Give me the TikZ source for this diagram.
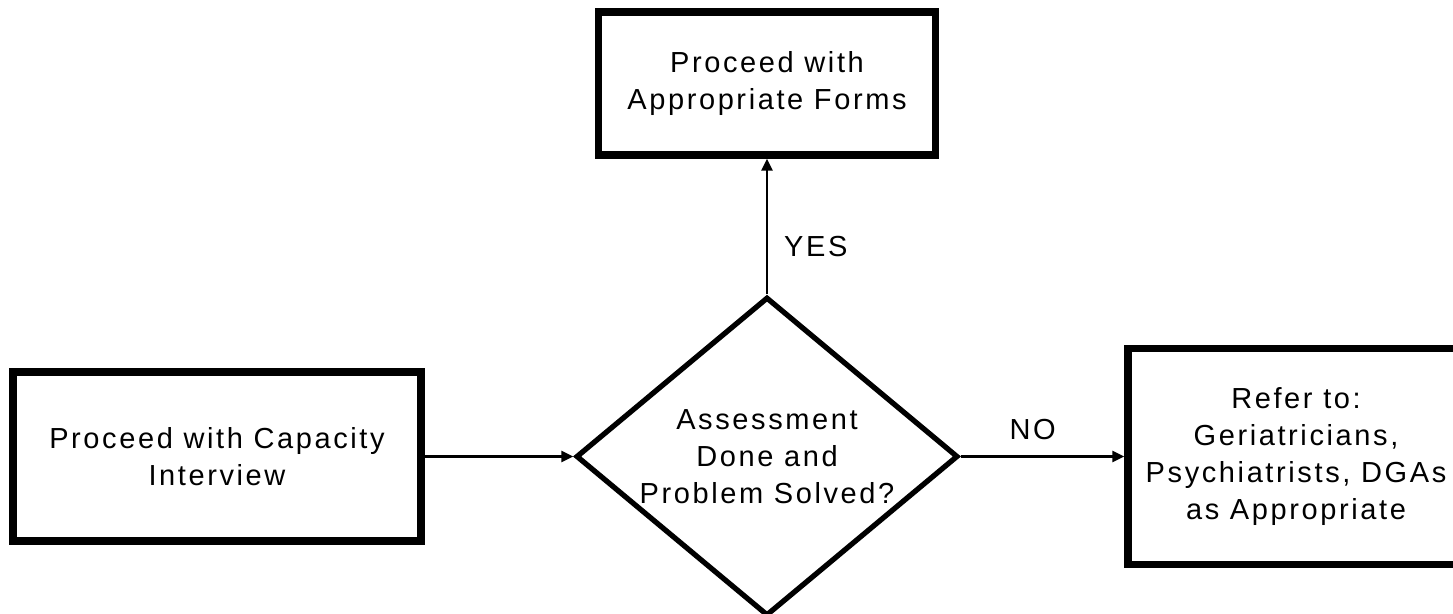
\documentclass[tikz,border=0pt]{standalone}
\usepackage{fontspec}
\setmainfont{Liberation Sans}[LetterSpace=9]
\usetikzlibrary{shapes,arrows.meta,positioning}

\begin{document}
\begin{tikzpicture}[
    every node/.style={font=\fontsize{16.5}{21}\selectfont},
    box/.style={rectangle, draw=black, line width=4.2pt, minimum width=8.16cm, minimum height=3.38cm, align=center},
    decision/.style={diamond, draw=black, line width=3pt, minimum width=7.64cm, minimum height=6.3cm, inner sep=-0.15cm, align=center},
    arrow/.style={-{Triangle[length=0.24cm, width=0.22cm]}, line width=1.4pt},
    answer/.style={inner sep=0pt}
]
\useasboundingbox (0,0) rectangle (29.06,12.28);

% Start (left) and decision (center)
\node[box] (interview) at (4.34, 3.15) {Proceed with Capacity\\Interview};
\node[decision] (decide) at (15.34, 3.15) {Assessment\\Done and\\Problem Solved?};

% Outcomes (top and right)
\node[box, minimum width=6.74cm, minimum height=2.86cm] (forms) at (15.34, 10.61) {Proceed with\\Appropriate Forms};
\node[box, minimum width=6.72cm, minimum height=4.32cm] (refer) at (25.92, 3.15) {Refer to:\\Geriatricians,\\Psychiatrists, DGAs\\as Appropriate};

% Connectors
\draw[arrow] (interview.east) -- (decide.west);
\draw[arrow] (decide.north) -- node[answer, pos=0.35, right=0.32cm] {YES} (forms.south);
\draw[arrow] (decide.east) -- node[answer, pos=0.44, above=0.3cm] {NO} (refer.west);

\end{tikzpicture}
\end{document}
